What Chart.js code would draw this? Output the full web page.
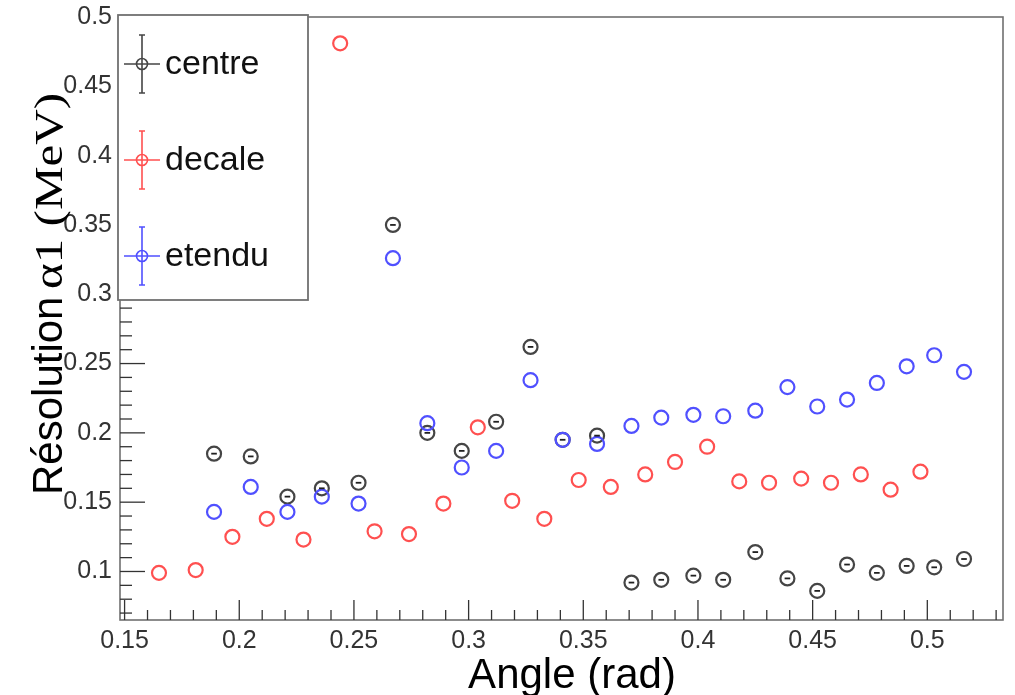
<!DOCTYPE html>
<html>
<head>
<meta charset="utf-8">
<script src="https://cdn.jsdelivr.net/npm/chart.js@4/dist/chart.umd.min.js"></script>
<style>
  html, body { margin: 0; padding: 0; background: #fff; }
  #wrap { width: 1015px; height: 695px; }
</style>
</head>
<body>
<div id="wrap"><canvas id="resChart" width="1015" height="695"></canvas></div>
<script>
// Data
const angleCentre = [0.189, 0.205, 0.221, 0.236, 0.252, 0.267, 0.282, 0.297, 0.312, 0.327, 0.341, 0.356,
                     0.371, 0.384, 0.398, 0.411, 0.425, 0.439, 0.452, 0.465, 0.478, 0.491, 0.503, 0.516];
const resCentre = [0.185, 0.183, 0.154, 0.160, 0.164, 0.350, 0.200, 0.187, 0.208, 0.262, 0.195, 0.198,
                   0.092, 0.094, 0.097, 0.094, 0.114, 0.095, 0.086, 0.105, 0.099, 0.104, 0.103, 0.109];

const angleDecale = [0.165, 0.181, 0.197, 0.212, 0.228, 0.244, 0.259, 0.274, 0.289, 0.304, 0.319, 0.333,
                     0.348, 0.362, 0.377, 0.390, 0.404, 0.418, 0.431, 0.445, 0.458, 0.471, 0.484, 0.497];
const resDecale = [0.099, 0.101, 0.125, 0.138, 0.123, 0.481, 0.129, 0.127, 0.149, 0.204, 0.151, 0.138,
                   0.166, 0.161, 0.170, 0.179, 0.190, 0.165, 0.164, 0.167, 0.164, 0.170, 0.159, 0.172];

const angleEtendu = angleCentre;
const resEtendu = [0.143, 0.161, 0.143, 0.154, 0.149, 0.326, 0.207, 0.175, 0.187, 0.238, 0.195, 0.192,
                   0.205, 0.211, 0.213, 0.212, 0.216, 0.233, 0.219, 0.224, 0.236, 0.248, 0.256, 0.244];

const seriesNames = ["centre", "decale", "etendu"];
const seriesColors = ["#454545", "#ff5050", "#5050ff"];

const xTicks = [0.15, 0.2, 0.25, 0.3, 0.35, 0.4, 0.45, 0.5];
const yTicks = [0.1, 0.15, 0.2, 0.25, 0.3, 0.35, 0.4, 0.45, 0.5];

function toPoints(xs, ys) {
  return xs.map((x, i) => ({ x: x, y: ys[i] }));
}

// ROOT-like frame, inward ticks, titles
const rootFrame = {
  id: "rootFrame",
  afterDatasetsDraw(chart) {
    const ctx = chart.ctx;
    const a = chart.chartArea;
    const xs = chart.scales.x, ys = chart.scales.y;

    // dash inside centre markers
    const meta = chart.getDatasetMeta(0);
    ctx.save();
    ctx.strokeStyle = "#202020";
    ctx.lineWidth = 1.8;
    meta.data.forEach(p => {
      ctx.beginPath();
      ctx.moveTo(p.x - 2.8, p.y);
      ctx.lineTo(p.x + 2.8, p.y);
      ctx.stroke();
    });
    ctx.restore();

    ctx.save();
    // frame
    ctx.strokeStyle = "#707070";
    ctx.lineWidth = 1.6;
    ctx.strokeRect(a.left, a.top, a.right - a.left, a.bottom - a.top);

    // ticks
    ctx.strokeStyle = "#333";
    ctx.lineWidth = 1.3;
    for (let i = 15; i <= 53; i++) {
      const px = xs.getPixelForValue(i / 100);
      const len = i % 5 === 0 ? 20 : 10;
      ctx.beginPath();
      ctx.moveTo(px, a.bottom);
      ctx.lineTo(px, a.bottom - len);
      ctx.stroke();
    }
    for (let i = 7; i <= 50; i++) {
      const py = ys.getPixelForValue(i / 100);
      const len = i % 5 === 0 ? 25 : 12;
      ctx.beginPath();
      ctx.moveTo(a.left, py);
      ctx.lineTo(a.left + len, py);
      ctx.stroke();
    }

    // axis titles
    ctx.fillStyle = "#000";
    ctx.textBaseline = "alphabetic";
    ctx.textAlign = "center";
    ctx.font = "42px 'Liberation Sans', Arial, sans-serif";
    ctx.fillText("Angle (rad)", 572, 688);

    ctx.translate(62, 495);
    ctx.rotate(-Math.PI / 2);
    ctx.textAlign = "left";
    ctx.font = "42px 'Liberation Sans', Arial, sans-serif";
    ctx.fillText("Résolution", 0, 0);
    const w1 = ctx.measureText("Résolution ").width;
    ctx.font = "41px 'Liberation Serif', 'Times New Roman', serif";
    const w2 = ctx.measureText("α1 (MeV)").width;
    ctx.translate(w1 - 4, 0);
    ctx.scale(196 / w2, 1);
    ctx.fillText("α1 (MeV)", 0, 0);
    ctx.restore();
  },
  afterDraw(chart) {
    const ctx = chart.ctx;
    const bx = 118, by = 15, bw = 190, bh = 285;
    ctx.save();
    ctx.fillStyle = "#fff";
    ctx.fillRect(bx, by, bw, bh);
    ctx.strokeStyle = "#707070";
    ctx.lineWidth = 1.8;
    ctx.strokeRect(bx, by, bw, bh);

    const rowY = [64, 160, 256];
    chart.data.datasets.forEach((ds, i) => {
      const cy = rowY[i];
      const cx = 142;
      ctx.strokeStyle = ds.borderColor;
      ctx.lineWidth = 1.6;
      ctx.beginPath();
      ctx.moveTo(cx, cy - 29); ctx.lineTo(cx, cy + 29);
      ctx.moveTo(cx - 3, cy - 29); ctx.lineTo(cx + 3, cy - 29);
      ctx.moveTo(cx - 3, cy + 29); ctx.lineTo(cx + 3, cy + 29);
      ctx.moveTo(124, cy); ctx.lineTo(160, cy);
      ctx.stroke();
      ctx.beginPath();
      ctx.arc(cx, cy, 5.5, 0, Math.PI * 2);
      ctx.stroke();

      ctx.fillStyle = "#111";
      ctx.font = "34px 'Liberation Sans', Arial, sans-serif";
      ctx.textAlign = "left";
      ctx.textBaseline = "middle";
      ctx.fillText(ds.label, 165, cy + 1);
    });
    ctx.restore();
  }
};

const datasets = [
  { data: toPoints(angleCentre, resCentre) },
  { data: toPoints(angleDecale, resDecale) },
  { data: toPoints(angleEtendu, resEtendu) }
].map((d, i) => ({
  label: seriesNames[i],
  data: d.data,
  borderColor: seriesColors[i],
  backgroundColor: "rgba(0,0,0,0)",
  pointStyle: "circle",
  pointRadius: 7,
  pointBorderWidth: 2.2,
  pointHoverRadius: 7,
  showLine: false,
  order: 3 - i
}));

new Chart(document.getElementById("resChart"), {
  type: "scatter",
  data: { datasets: datasets },
  options: {
    responsive: false,
    animation: false,
    layout: { padding: { top: 17, right: 12, left: 0, bottom: 0 } },
    plugins: {
      legend: { display: false },
      tooltip: { enabled: false }
    },
    scales: {
      x: {
        type: "linear",
        min: 0.148,
        max: 0.533,
        afterBuildTicks: s => { s.ticks = xTicks.map(v => ({ value: v })); },
        afterFit: s => { s.height = 75; s.paddingLeft = 0; s.paddingRight = 0; },
        grid: { display: false, drawTicks: false },
        border: { display: false },
        ticks: {
          padding: 6,
          color: "#333",
          font: { family: "'Liberation Sans', Arial, sans-serif", size: 25 },
          maxRotation: 0,
          callback: v => String(+v.toFixed(2))
        }
      },
      y: {
        type: "linear",
        min: 0.065,
        max: 0.5,
        afterBuildTicks: s => { s.ticks = yTicks.map(v => ({ value: v })); },
        afterFit: s => { s.width = 120; s.paddingTop = 0; s.paddingBottom = 0; },
        grid: { display: false, drawTicks: false },
        border: { display: false },
        ticks: {
          padding: 8,
          color: "#333",
          font: { family: "'Liberation Sans', Arial, sans-serif", size: 25 },
          callback: v => String(+v.toFixed(2))
        }
      }
    }
  },
  plugins: [rootFrame]
});
</script>
</body>
</html>
